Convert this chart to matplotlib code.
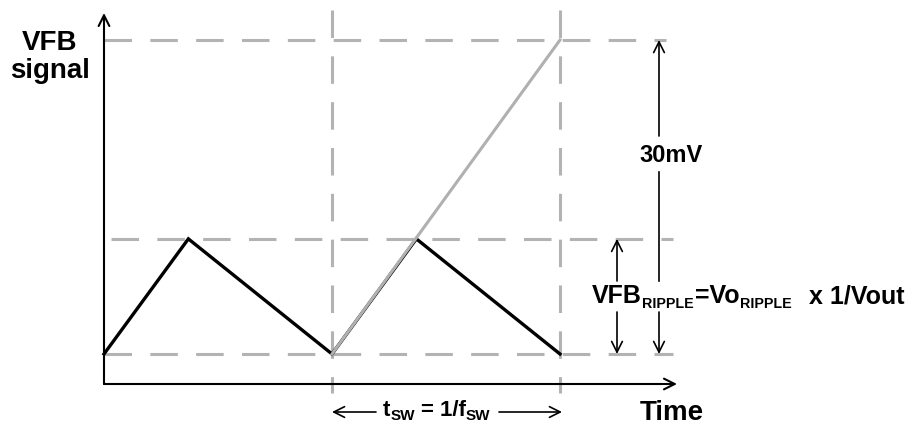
import matplotlib
matplotlib.use("Agg")
import matplotlib.pyplot as plt
from matplotlib.transforms import offset_copy

plt.rcParams['font.family'] = ['Liberation Sans', 'DejaVu Sans']
plt.rcParams['font.weight'] = 'bold'

# switching periods (t in units of Tsw), VFB in mV
tri_t = [0, 0.37, 1, 1.37, 2]
tri_v = [0, 11, 0, 11, 0]
ramp_t = [1, 2]
ramp_v = [0, 30]
levels = [0, 11, 30]
edges = [1, 2]

# (text, is_subscript, gap in px before the piece)
ripple_label = [('VFB', False, 0), ('RIPPLE', True, 0), ('=Vo', False, 2),
                ('RIPPLE', True, 0), ('x 1/Vout', False, 17)]
period_label = [('t', False, 0), ('SW', True, 0), ('= 1/f', False, 6),
                ('SW', True, 0)]
ramp_label = '30mV'

# pixel -> data helpers (figure is 909x425 px)
def X(px):
    return (px - 104) / 228.0

def Y(py):
    return (354 - py) * 30 / 314.0

fig = plt.figure(figsize=(9.09, 4.25), dpi=100)
ax = fig.add_axes([0, 0, 1, 1])
ax.set_xlim(X(0), X(909))
ax.set_ylim(Y(425), Y(0))
ax.axis('off')
renderer = fig.canvas.get_renderer()

gray = '#b3b3b3'
dash = dict(color=gray, lw=2.2, dashes=(9, 6), zorder=1)

# horizontal guides
ax.plot([X(104), X(666)], [levels[2]] * 2, **dash)
ax.plot([X(111), X(673)], [levels[1]] * 2, **dash)
ax.plot([X(104), X(673)], [levels[0]] * 2, **dash)
# vertical guides
for e in edges:
    ax.plot([e, e], [Y(10), Y(393)], **dash)

# signals
ax.plot(ramp_t, ramp_v, color='#b0b0b0', lw=2.2, zorder=3)
ax.plot(tri_t, tri_v, color='black', lw=2.4, zorder=2, solid_joinstyle='miter')

def arrow(x0, y0, x1, y1, lw=1.5):
    ax.annotate('', xy=(x1, y1), xytext=(x0, y0),
                arrowprops=dict(arrowstyle='->,head_length=0.7,head_width=0.35',
                                lw=lw, color='black', shrinkA=0, shrinkB=0,
                                mutation_scale=11), zorder=4)

def sub_text(x, y, pieces, size, sub_size, sub_drop):
    """ Writes text with subscripts piece by piece, left to right. """
    dx = 0
    for s, is_sub, gap in pieces:
        dx += gap
        tr = offset_copy(ax.transData, fig=fig, x=dx, y=-sub_drop if is_sub else 0,
                         units='dots')
        t = ax.text(x, y, s, transform=tr, ha='left', va='baseline',
                    fontsize=sub_size if is_sub else size, zorder=6)
        dx += t.get_window_extent(renderer).width
    return dx

# axes
arrow(X(104), Y(384), X(104), Y(13))
arrow(X(104), Y(384), X(677), Y(384))

# measurement arrows (split round the labels)
arrow(X(617), Y(281), X(617), levels[1], lw=1.2)
arrow(X(617), Y(312), X(617), levels[0], lw=1.2)
ax.plot([X(659), X(659)], [Y(281), Y(172)], color='black', lw=1.2)
arrow(X(659), Y(312), X(659), levels[0], lw=1.2)
arrow(X(659), Y(136), X(659), levels[2], lw=1.2)
arrow(X(376), Y(412), X(332), Y(412), lw=1.2)
arrow(X(499), Y(412), X(562), Y(412), lw=1.2)

# labels
ax.text(X(50), Y(57), 'VFB\nsignal', ha='center', va='center', fontsize=20,
        linespacing=1.05)
ax.text(X(671), Y(155), ramp_label, ha='center', va='center', fontsize=17)
sub_text(X(592), Y(303), ripple_label, 18, 10.3, 5)
sub_text(X(383), Y(416), period_label, 16, 11, 4)
ax.text(X(640), Y(413), 'Time', ha='left', va='center', fontsize=20)

fig.savefig('out.png', dpi=100, facecolor='white')
